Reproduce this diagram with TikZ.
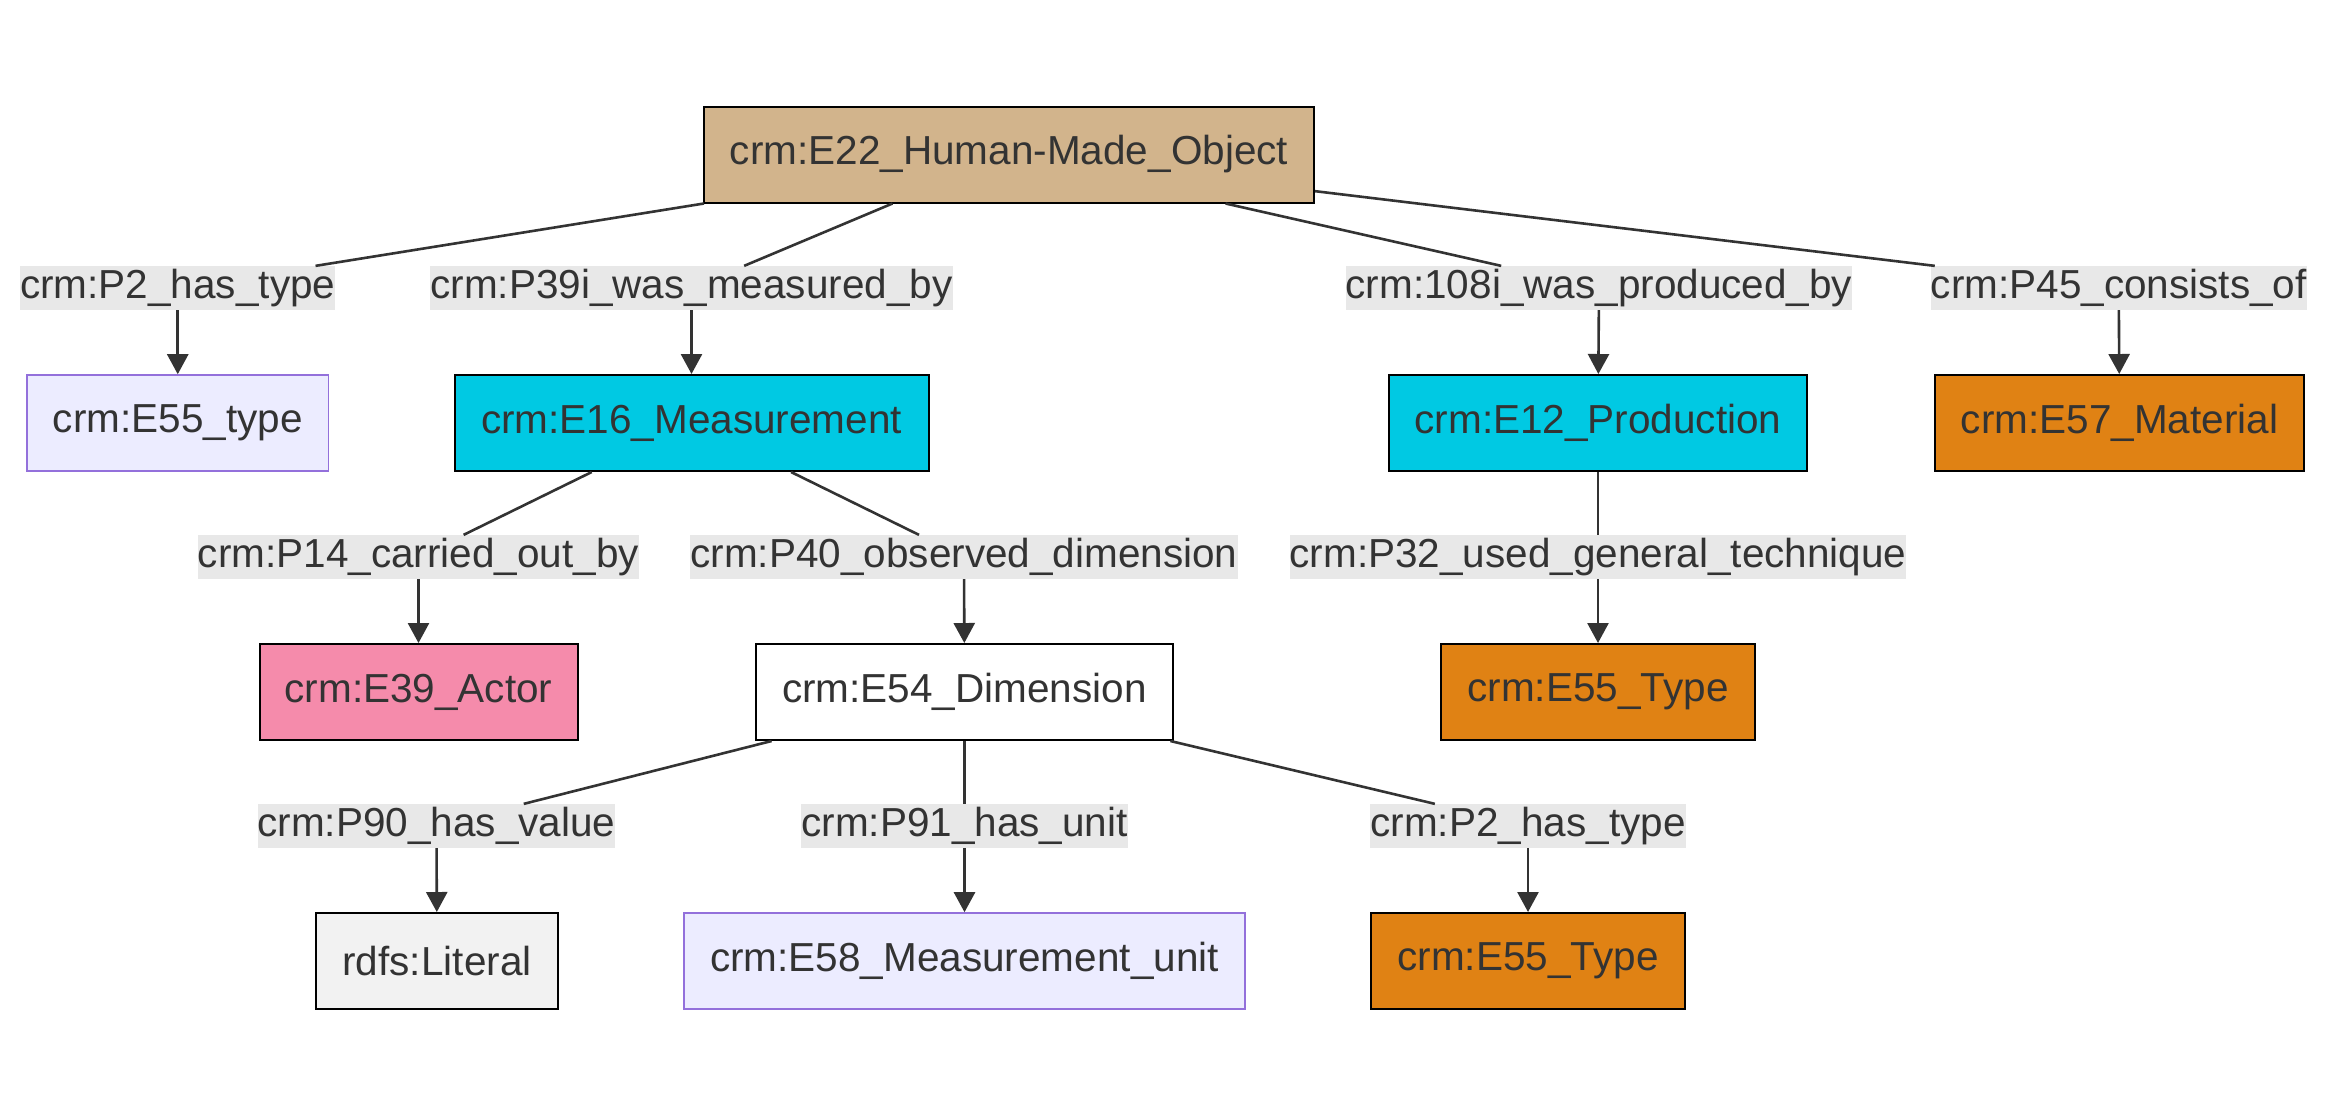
\documentclass[tikz,border=0pt]{standalone}
\usepackage{fontspec}
\setmainfont{Liberation Sans}
\usetikzlibrary{arrows.meta}
\definecolor{objtan}{HTML}{D2B48C}
\definecolor{evcyan}{HTML}{00C9E3}
\definecolor{typeorange}{HTML}{E08214}
\definecolor{actorpink}{HTML}{F58BAB}
\definecolor{lavfill}{HTML}{ECECFF}
\definecolor{lavdraw}{HTML}{9370DB}
\definecolor{litgray}{HTML}{F2F2F2}
\definecolor{lblgray}{HTML}{E8E8E8}
\definecolor{inkgray}{HTML}{333333}

\begin{document}
\begin{tikzpicture}[x=0.5pt,y=-0.5pt,
  font=\fontsize{20.25}{24}\selectfont, text=inkgray,
  box/.style={draw=black, line width=1pt, minimum height=48pt, inner xsep=2pt},
  plainbox/.style={draw=lavdraw, fill=lavfill, line width=0.8pt, minimum height=48pt, inner xsep=2pt},
  prop/.style={fill=lblgray, inner xsep=0pt, inner ysep=0pt, minimum height=21.75pt,
    text height=14.6pt, text depth=4.3pt},
  link/.style={draw=inkgray, line width=1.3pt},
  arr/.style={link, -{Triangle[length=10pt,width=10.5pt]}}]
\fill[white] (0,0) rectangle (2352,1116);
\useasboundingbox (0,0) rectangle (2352,1116);
          %classes
\node[box, fill=objtan, minimum width=305pt] (obj) at (1009,154.5) {crm:E22\_Human-Made\_Object};
\node[plainbox, minimum width=150.75pt] (typeA) at (177.75,423) {crm:E55\_type};
\node[box, fill=evcyan, minimum width=237pt] (meas) at (691.5,423) {crm:E16\_Measurement};
\node[box, fill=evcyan, minimum width=209.25pt] (prod) at (1598,423) {crm:E12\_Production};
\node[box, fill=typeorange, minimum width=184.5pt] (mat) at (2119.5,423) {crm:E57\_Material};
\node[box, fill=actorpink, minimum width=159pt] (actor) at (418.5,692) {crm:E39\_Actor};
\node[box, fill=white, minimum width=208.5pt] (dim) at (964.5,692) {crm:E54\_Dimension};
\node[box, fill=typeorange, minimum width=156.75pt] (typeB) at (1598,692) {crm:E55\_Type};
\node[box, fill=litgray, minimum width=120.75pt] (lit) at (437,961) {rdfs:Literal};
\node[plainbox, minimum width=280.5pt] (unit) at (964.5,961) {crm:E58\_Measurement\_unit};
\node[box, fill=typeorange, minimum width=156.75pt] (typeC) at (1528,961) {crm:E55\_Type};
          %properties
\node[prop] (pA) at (177.75,288) {crm:P2\_has\_type};
\node[prop] (pB) at (691.5,288) {crm:P39i\_was\_measured\_by};
\node[prop] (pC) at (1599,288) {crm:108i\_was\_produced\_by};
\node[prop] (pD) at (2118.75,288) {crm:P45\_consists\_of};
\node[prop] (pE) at (418.5,557) {crm:P14\_carried\_out\_by};
\node[prop] (pF) at (964,557) {crm:P40\_observed\_dimension};
\node[prop] (pG) at (1598,557) {crm:P32\_used\_general\_technique};
\node[prop] (pH) at (436.5,826) {crm:P90\_has\_value};
\node[prop] (pI) at (964.5,826) {crm:P91\_has\_unit};
\node[prop] (pJ) at (1528,826) {crm:P2\_has\_type};
          %subject to property
\foreach \p in {pA,pB,pC,pD}{
\draw[link] (obj) -- (\p);
}
\foreach \p in {pE,pF}{
\draw[link] (meas) -- (\p);
}
\draw[link] (prod) -- (pG);
\foreach \p in {pH,pI,pJ}{
\draw[link] (dim) -- (\p);
}
          %property to object
\foreach \p/\c in {pA/typeA,pB/meas,pC/prod,pD/mat,pE/actor,pF/dim,pG/typeB,pH/lit,pI/unit,pJ/typeC}{
\draw[arr] (\p) -- (\c);
}
\end{tikzpicture}
\end{document}
